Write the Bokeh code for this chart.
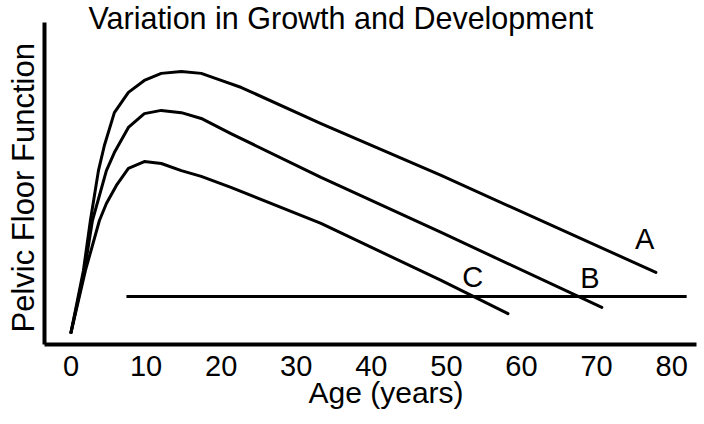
from bokeh.plotting import figure
from bokeh.models import Range1d, FixedTicker, Label, Title
from bokeh.embed import file_html
from bokeh.resources import INLINE

# ---- data ----
age_ticks = [0, 10, 20, 30, 40, 50, 60, 70, 80]

a_age = [0.0, 1.66, 2.59, 3.66, 4.45, 5.78, 7.65, 9.77, 12.03, 14.7, 17.35, 20.0, 22.7, 33.3, 49.3, 77.9]
a_val = [3.7, 23.0, 38.5, 54.0, 61.8, 72.0, 78.3, 82.0, 84.2, 84.8, 84.2, 82.0, 79.8, 68.6, 52.5, 22.4]

b_age = [0.0, 1.8, 2.86, 4.72, 5.78, 7.65, 9.77, 12.03, 14.7, 17.35, 21.3, 33.3, 49.3, 70.7]
b_val = [3.7, 23.0, 38.5, 54.0, 59.6, 67.4, 71.7, 72.7, 72.0, 70.2, 65.5, 51.9, 34.8, 11.5]

c_age = [0.0, 1.93, 3.79, 4.72, 6.05, 7.65, 9.77, 12.03, 14.7, 17.35, 21.3, 33.3, 49.3, 58.2]
c_val = [3.7, 23.0, 38.5, 43.8, 49.4, 54.7, 56.8, 56.2, 54.0, 52.2, 48.8, 37.6, 19.9, 9.6]

threshold_age = [7.39, 82.0]
threshold_val = [14.9, 14.9]

curve_names = ["A", "B", "C"]
name_age = [76.4, 69.1, 53.5]
name_val = [32.9, 20.8, 21.1]

title_text = "Variation in Growth and Development"
x_label = "Age (years)"
y_label = "Pelvic Floor Function"

FONT = "Liberation Sans"

p = figure(width=704, height=424, output_backend="svg", toolbar_location=None,
           x_range=Range1d(-3.524, 83.31), y_range=Range1d(0, 106.83),
           min_border_left=43, min_border_right=8, min_border_top=0,
           min_border_bottom=80)
p.outline_line_color = None
p.xgrid.visible = False
p.ygrid.visible = False
p.background_fill_color = "white"
p.border_fill_color = "white"

for xs, ys in [(a_age, a_val), (b_age, b_val), (c_age, c_val)]:
    p.line(xs, ys, line_color="black", line_width=3, line_join="round", line_cap="round")
p.line(threshold_age, threshold_val, line_color="black", line_width=3)

for n, x, y in zip(curve_names, name_age, name_val):
    p.add_layout(Label(x=x, y=y, text=n, text_align="center", text_baseline="middle",
                       text_font=FONT, text_font_size="29px", text_color="black"))

p.add_layout(Label(x=2.33, y=101.4, text=title_text, text_align="left",
                   text_baseline="middle", text_font=FONT, text_font_size="30.5px",
                   text_color="black"))

# x axis: line + tick labels
xa = p.xaxis[0]
xa.ticker = FixedTicker(ticks=age_ticks)
xa.major_tick_out = 0
xa.major_tick_in = 0
xa.minor_tick_out = 0
xa.minor_tick_in = 0
xa.axis_line_width = 4
xa.axis_line_color = "black"
xa.major_label_text_font = FONT
xa.major_label_text_font_size = "29px"
xa.major_label_text_color = "black"
xa.major_label_standoff = 11

# y axis: line only
ya = p.yaxis[0]
ya.ticker = FixedTicker(ticks=[])
ya.bounds = (0, 100)
ya.major_tick_out = 0
ya.major_tick_in = 0
ya.minor_tick_out = 0
ya.minor_tick_in = 0
ya.major_label_text_font_size = "0px"
ya.major_label_standoff = 0
ya.axis_line_width = 4
ya.axis_line_color = "black"

# axis titles (panel titles so they can sit off-centre like the reference)
xt = Title(text=x_label, align="left", offset=264, vertical_align="top", standoff=-6,
           text_font=FONT, text_font_size="30px", text_font_style="normal",
           text_color="black")
p.add_layout(xt, "below")

yt = Title(text=y_label, align="left", offset=12, vertical_align="bottom", standoff=7,
           text_font=FONT, text_font_size="31px", text_font_style="normal",
           text_color="black")
p.add_layout(yt, "left")

open("out.html", "w").write(file_html(p, INLINE))
